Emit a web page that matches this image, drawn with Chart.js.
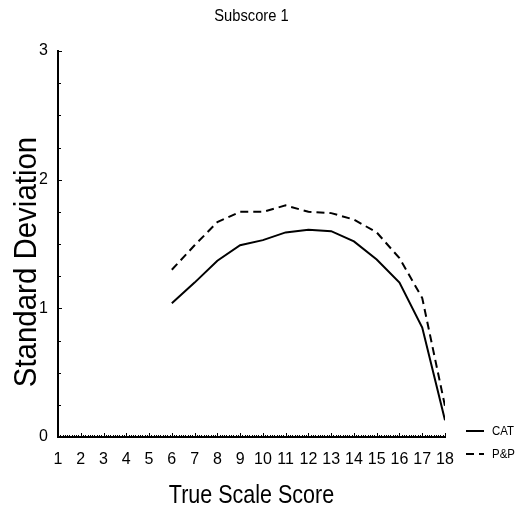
<!DOCTYPE html>
<html>
<head>
<meta charset="utf-8">
<script src="https://cdn.jsdelivr.net/npm/chart.js@4/dist/chart.umd.min.js"></script>
<style>
  html, body { margin: 0; padding: 0; background: #fff; }
  #wrap { width: 521px; height: 521px; position: relative; }
</style>
</head>
<body>
<div id="wrap"><canvas id="c" width="521" height="521"></canvas></div>
<script>
// True scale scores and conditional standard deviations
const scores   = [6, 7, 8, 9, 10, 11, 12, 13, 14, 15, 16, 17, 18];
const catSD    = [1.04, 1.20, 1.37, 1.49, 1.53, 1.59, 1.61, 1.60, 1.52, 1.38, 1.20, 0.85, 0.13];
const ppSD     = [1.30, 1.49, 1.67, 1.75, 1.75, 1.80, 1.75, 1.74, 1.69, 1.59, 1.39, 1.08, 0.24];
const seriesNames = ['CAT', 'P&P'];
const xTicks = [1, 2, 3, 4, 5, 6, 7, 8, 9, 10, 11, 12, 13, 14, 15, 16, 17, 18];
const yTicks = [0, 1, 2, 3];

const FONT = "'Liberation Sans Narrow', 'Arial Narrow', 'Liberation Sans', Arial, sans-serif";

function pts(ys) { return scores.map((x, i) => ({ x: x, y: ys[i] })); }

// Text drawn slightly condensed horizontally
function narrowText(ctx, text, x, y, size, sx, rot) {
  ctx.save();
  ctx.translate(x, y);
  if (rot) ctx.rotate(rot);
  ctx.scale(sx, 1);
  ctx.font = size + 'px ' + FONT;
  ctx.textAlign = 'center';
  ctx.textBaseline = 'middle';
  ctx.fillText(text, 0, 0);
  ctx.restore();
}

// Draws the small inward minor ticks, titles, and the legend
const decorations = {
  id: 'decorations',
  afterDraw(chart) {
    const ctx = chart.ctx;
    const xs = chart.scales.x, ys = chart.scales.y;
    const a = chart.chartArea;
    ctx.save();
    ctx.strokeStyle = '#000';
    ctx.lineWidth = 1;
    // x minor ticks every 0.1
    for (let i = 10; i <= 180; i++) {
      const v = i / 10;
      const px = Math.round(xs.getPixelForValue(v)) + 0.5;
      const len = (i % 10 === 0) ? 4 : 2;
      ctx.beginPath();
      ctx.moveTo(px, a.bottom);
      ctx.lineTo(px, a.bottom - len);
      ctx.stroke();
    }
    // y minor ticks every 0.25
    for (let i = 0; i <= 12; i++) {
      const v = i / 4;
      const py = Math.round(ys.getPixelForValue(v)) + 0.5;
      const len = (i % 4 === 0) ? 4 : 3;
      ctx.beginPath();
      ctx.moveTo(a.left, py);
      ctx.lineTo(a.left + len, py);
      ctx.stroke();
    }

    ctx.fillStyle = '#000';
    const cx = (a.left + a.right) / 2;
    // title
    narrowText(ctx, 'Subscore 1', cx, 17, 16, 0.92);
    // x axis title
    narrowText(ctx, 'True Scale Score', cx, 496, 25, 0.86);
    // y axis title
    narrowText(ctx, 'Standard Deviation', 27, 262, 31, 0.95, -Math.PI / 2);

    // legend
    const items = chart.data.datasets;
    const rows = [431, 454];
    items.forEach((ds, i) => {
      ctx.save();
      ctx.strokeStyle = ds.borderColor;
      ctx.lineWidth = ds.borderWidth;
      ctx.setLineDash(ds.borderDash || []);
      ctx.beginPath();
      ctx.moveTo(466, rows[i]);
      ctx.lineTo(484, rows[i]);
      ctx.stroke();
      ctx.restore();
      ctx.save();
      ctx.translate(492, rows[i]);
      ctx.scale(0.88, 1);
      ctx.font = '13px ' + FONT;
      ctx.textAlign = 'left';
      ctx.textBaseline = 'middle';
      ctx.fillText(ds.label, 0, 0);
      ctx.restore();
    });
    ctx.restore();
  }
};

new Chart(document.getElementById('c'), {
  type: 'line',
  data: {
    datasets: [
      {
        label: seriesNames[0],
        data: pts(catSD),
        borderColor: '#000',
        borderWidth: 2,
        pointRadius: 0,
        tension: 0,
        fill: false
      },
      {
        label: seriesNames[1],
        data: pts(ppSD),
        borderColor: '#000',
        borderWidth: 2,
        borderDash: [8, 5],
        pointRadius: 0,
        tension: 0,
        fill: false
      }
    ]
  },
  options: {
    responsive: false,
    animation: false,
    layout: { padding: { top: 51, right: 76, left: 0, bottom: 0 } },
    plugins: {
      legend: { display: false },
      title: { display: false },
      tooltip: { enabled: false }
    },
    scales: {
      x: {
        type: 'linear',
        min: 1,
        max: 18,
        afterFit(s) { s.height = 84; },
        afterBuildTicks(s) { s.ticks = xTicks.map(v => ({ value: v })); },
        grid: { display: false, drawTicks: false },
        border: { display: true, color: '#000', width: 2 },
        ticks: {
          color: '#000',
          padding: 13,
          maxRotation: 0,
          autoSkip: false,
          font: { family: FONT, size: 16 }
        }
      },
      y: {
        type: 'linear',
        min: 0,
        max: 3,
        afterFit(s) { s.width = 58; },
        afterBuildTicks(s) { s.ticks = yTicks.map(v => ({ value: v })); },
        grid: { display: false, drawTicks: false },
        border: { display: true, color: '#000', width: 2 },
        ticks: {
          color: '#000',
          padding: 10,
          font: { family: FONT, size: 16 }
        }
      }
    }
  },
  plugins: [decorations]
});
</script>
</body>
</html>
